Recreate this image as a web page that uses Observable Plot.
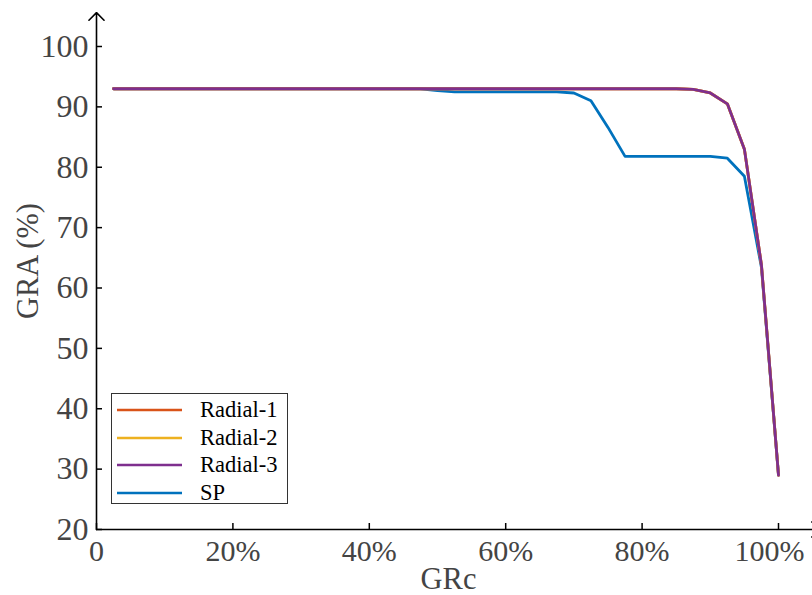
<!DOCTYPE html>
<html>
<head>
<meta charset="utf-8">
<script src="https://cdn.jsdelivr.net/npm/d3@7"></script>
<script src="https://cdn.jsdelivr.net/npm/@observablehq/plot@0.6"></script>
<style>
  html, body { margin: 0; padding: 0; background: white; }
  #wrap { position: relative; width: 812px; height: 595px; overflow: hidden; }
  #legend { position: absolute; left: 111px; top: 393px; width: 177px; height: 111px;
    border: 1px solid #333; background: white; box-sizing: border-box;
    font-family: "Liberation Serif", "Times New Roman", serif; font-size: 22.5px; color: #000; }
  .row { position: absolute; left: 0; height: 26px; width: 100%; }
  .row svg { position: absolute; left: 5px; top: 0; }
  .row span { position: absolute; left: 88px; top: 0; line-height: 26px; }
</style>
</head>
<body>
<div id="wrap"><div id="legend"></div></div>
<script>
const grc = [2.5, 5, 7.5, 10, 12.5, 15, 17.5, 20, 22.5, 25, 27.5, 30, 32.5, 35, 37.5, 40,
  42.5, 45, 47.5, 50, 52.5, 55, 57.5, 60, 62.5, 65, 67.5, 70, 72.5, 75, 77.5, 80,
  82.5, 85, 87.5, 90, 92.5, 95, 97.5, 100];
const radial1 = [93, 93, 93, 93, 93, 93, 93, 93, 93, 93, 93, 93, 93, 93, 93, 93,
  93, 93, 93, 93, 93, 93, 93, 93, 93, 93, 93, 93, 93, 93, 93, 93,
  93, 93, 92.9, 92.3, 90.5, 83.0, 63.8, 29.0];
const radial2 = [93, 93, 93, 93, 93, 93, 93, 93, 93, 93, 93, 93, 93, 93, 93, 93,
  93, 93, 93, 93, 93, 93, 93, 93, 93, 93, 93, 93, 93, 93, 93, 93,
  93, 93, 92.9, 92.3, 90.5, 83.0, 63.8, 29.0];
const radial3 = [93, 93, 93, 93, 93, 93, 93, 93, 93, 93, 93, 93, 93, 93, 93, 93,
  93, 93, 93, 93, 93, 93, 93, 93, 93, 93, 93, 93, 93, 93, 93, 93,
  93, 93, 92.9, 92.3, 90.5, 83.0, 63.8, 29.0];
const sp = [93, 93, 93, 93, 93, 93, 93, 93, 93, 93, 93, 93, 93, 93, 93, 93,
  93, 93, 93, 92.7, 92.5, 92.5, 92.5, 92.5, 92.5, 92.5, 92.5, 92.3, 91.0, 86.6, 81.8, 81.8,
  81.8, 81.8, 81.8, 81.8, 81.5, 78.5, 63.4, 29.0];

const seriesNames = ["Radial-1", "Radial-2", "Radial-3", "SP"];
const seriesColors = ["#D95319", "#EDB120", "#7E2F8E", "#0072BD"];
const xTicksInner = [0, 20, 40, 60, 80];
const xTicksLast = [100];
const yTicks = [20, 30, 40, 50, 60, 70, 80, 90, 100];
const xDomain = [0, 100];
const yDomain = [20, 100];
const xArrowEnd = 106;
const yArrowEnd = 105.6;

const seriesValues = [radial1, radial2, radial3, sp];
const rows = [];
seriesNames.forEach((name, i) => {
  grc.forEach((g, j) => rows.push({series: name, x: g, y: seriesValues[i][j]}));
});
// draw SP first so the purple lies on top where they coincide
const drawOrder = ["SP", "Radial-1", "Radial-2", "Radial-3"];

const font = "Liberation Serif, Times New Roman, serif";
const fmt = d => d === 0 ? "0" : d + "%";
const xAxisStyle = {tickFormat: fmt, tickSize: -6, tickPadding: 16, fontSize: 30, fill: "#444", stroke: "#000", strokeWidth: 1.5, label: null};

const chart = Plot.plot({
  width: 812, height: 595,
  marginLeft: 96, marginRight: 34, marginTop: 46, marginBottom: 66,
  style: {fontFamily: font, background: "white"},
  x: {domain: xDomain},
  y: {domain: yDomain},
  color: {domain: seriesNames, range: seriesColors},
  marks: [
    Plot.axisY({ticks: yTicks, tickSize: -6, tickPadding: 14, fontSize: 32, fill: "#444", stroke: "#000", strokeWidth: 1.5, label: null}),
    Plot.axisX({ticks: xTicksInner, ...xAxisStyle}),
    Plot.axisX({ticks: xTicksLast, ...xAxisStyle, tickSize: 0, tickPadding: 10}),
    Plot.axisX({ticks: xTicksLast, tickSize: -6, stroke: "#000", strokeWidth: 1.5, tickFormat: () => "", label: null}),
    ...drawOrder.map(s => Plot.line(rows.filter(r => r.series === s), {x: "x", y: "y", stroke: "series", strokeWidth: 2.8})),
    Plot.arrow([{x1: xDomain[0], y1: yDomain[0], x2: xDomain[0], y2: yArrowEnd}], {x1: "x1", y1: "y1", x2: "x2", y2: "y2", stroke: "#000", strokeWidth: 1.6, headAngle: 90, headLength: 10, clip: false}),
    Plot.arrow([{x1: xDomain[0], y1: yDomain[0], x2: xArrowEnd, y2: yDomain[0]}], {x1: "x1", y1: "y1", x2: "x2", y2: "y2", stroke: "#000", strokeWidth: 1.6, headAngle: 90, headLength: 10, clip: false}),
    Plot.text(["GRc"], {frameAnchor: "bottom", dx: 11, dy: 50, fontSize: 30.5, fill: "#444", lineAnchor: "middle"}),
    Plot.text(["GRA (%)"], {frameAnchor: "left", textAnchor: "middle", rotate: -90, dx: -68, dy: -27, fontSize: 30.5, fill: "#444", lineAnchor: "middle"})
  ]
});
document.getElementById("wrap").prepend(chart);
chart.style.position = "absolute"; chart.style.left = "0"; chart.style.top = "0";

// shift the last x label left so it stays inside the picture, as in the reference
const lastAxis = chart.querySelectorAll("g[aria-label='x-axis tick label']");
if (lastAxis.length > 1) lastAxis[1].setAttribute("transform", (lastAxis[1].getAttribute("transform") || "") + " translate(-9,0)");

const legend = document.getElementById("legend");
seriesNames.forEach((name, i) => {
  const row = document.createElement("div");
  row.className = "row";
  row.style.top = (3 + i * 27.5) + "px";
  row.innerHTML = `<svg width="66" height="26"><line x1="0" x2="65" y1="13" y2="13" stroke="${seriesColors[i]}" stroke-width="2.5"/></svg><span>${name}</span>`;
  legend.appendChild(row);
});
</script>
</body>
</html>
